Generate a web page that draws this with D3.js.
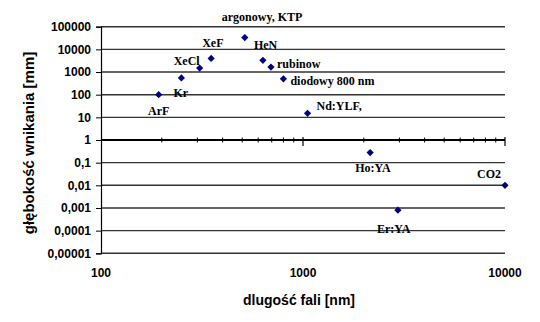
<!DOCTYPE html>
<html>
<head>
<meta charset="utf-8">
<script src="https://cdn.jsdelivr.net/npm/d3@7"></script>
<style>
  html, body { margin: 0; padding: 0; background: #fff; }
  svg { display: block; }
</style>
</head>
<body>
<svg id="chart" width="540" height="322"></svg>
<script>
// Laser types, wavelength [nm] and penetration depth [mm]
const lasers = ["ArF", "Kr", "XeCl", "XeF", "argonowy, KTP", "HeN", "rubinow",
                "diodowy 800 nm", "Nd:YLF,", "Ho:YA", "Er:YA", "CO2"];
const wavelengths = [193, 250, 308, 351, 515, 633, 694, 800, 1053, 2150, 2950, 10000];
const depths = [100, 550, 1500, 4000, 33000, 3300, 1650, 500, 15, 0.28, 0.0008, 0.01];

const xTicks = [100, 1000, 10000];
const yTicks = [100000, 10000, 1000, 100, 10, 1, 0.1, 0.01, 0.001, 0.0001, 0.00001];
const yTickLabels = ["100000", "10000", "1000", "100", "10", "1", "0,1", "0,01", "0,001", "0,0001", "0,00001"];

// label placement relative to each marker: [dx, dy, anchor]
const labelPos = {
  "ArF": [0, 16, "middle"],
  "Kr": [-8, 15.5, "start"],
  "XeCl": [0, -7, "end"],
  "XeF": [-9, -15, "start"],
  "argonowy, KTP": [-23, -21, "start"],
  "HeN": [-9, -15, "start"],
  "rubinow": [6, -3, "start"],
  "diodowy 800 nm": [7, 2, "start"],
  "Nd:YLF,": [9, -7, "start"],
  "Ho:YA": [-15, 15.5, "start"],
  "Er:YA": [-21, 19, "start"],
  "CO2": [-4, -11.5, "end"]
};

const svg = d3.select("#chart");
const plotLeft = 101, plotRight = 505, plotTop = 26.7, plotBottom = 253.3;

const x = d3.scaleLog().domain([100, 10000]).range([plotLeft, plotRight]);
const y = d3.scaleLog().domain([0.00001, 100000]).range([plotBottom, plotTop]);

const sansBold = "'Liberation Sans', Arial, sans-serif";
const serifBold = "'Liberation Serif', 'Times New Roman', serif";

// horizontal gridlines
svg.append("g")
  .selectAll("line")
  .data(yTicks.filter(v => v !== 1))
  .join("line")
  .attr("x1", plotLeft).attr("x2", plotRight)
  .attr("y1", d => y(d)).attr("y2", d => y(d))
  .attr("stroke", "#333")
  .attr("stroke-width", 1.4);

// y axis (left)
const yAxis = d3.axisLeft(y)
  .tickValues(yTicks)
  .tickSize(5)
  .tickFormat((d, i) => yTickLabels[i]);
const gy = svg.append("g").attr("transform", `translate(${plotLeft},0)`).call(yAxis);
gy.select(".domain").attr("stroke", "#000").attr("stroke-width", 1.2);
gy.selectAll(".tick line").attr("stroke", "#000");
gy.selectAll(".tick text")
  .attr("x", -10)
  .attr("font-family", sansBold)
  .attr("font-weight", "bold")
  .attr("font-size", 12)
  .attr("fill", "#000");

// x axis crossing at depth = 1, with log minor ticks
const yCross = y(1);
const minorTicks = x.ticks().filter(v => !xTicks.includes(v));
const gx = svg.append("g").attr("transform", `translate(0,${yCross})`);
gx.append("line")
  .attr("x1", plotLeft).attr("x2", plotRight)
  .attr("stroke", "#000").attr("stroke-width", 2);
gx.selectAll("line.minor")
  .data(minorTicks)
  .join("line")
  .attr("class", "minor")
  .attr("x1", d => x(d)).attr("x2", d => x(d))
  .attr("y1", -2.5).attr("y2", 2.5)
  .attr("stroke", "#000").attr("stroke-width", 1);
gx.selectAll("line.major")
  .data(xTicks.slice(1))
  .join("line")
  .attr("class", "major")
  .attr("x1", d => x(d)).attr("x2", d => x(d))
  .attr("y1", -3).attr("y2", 6)
  .attr("stroke", "#000").attr("stroke-width", 1.2);

// x tick labels at the bottom of the plot
svg.append("g")
  .selectAll("text")
  .data(xTicks)
  .join("text")
  .attr("x", d => x(d))
  .attr("y", 273)
  .attr("text-anchor", "middle")
  .attr("dominant-baseline", "central")
  .attr("font-family", sansBold)
  .attr("font-weight", "bold")
  .attr("font-size", 12)
  .text(d => d3.format("d")(d));

// axis titles
svg.append("text")
  .attr("x", 299).attr("y", 300)
  .attr("text-anchor", "middle")
  .attr("dominant-baseline", "central")
  .attr("font-family", sansBold)
  .attr("font-weight", "bold")
  .attr("font-size", 14)
  .text("dlugość fali [nm]");

svg.append("text")
  .attr("transform", "translate(28,143) rotate(-90)")
  .attr("text-anchor", "middle")
  .attr("dominant-baseline", "central")
  .attr("font-family", sansBold)
  .attr("font-weight", "bold")
  .attr("font-size", 15)
  .text("głębokość wnikania [mm]");

// data points
const points = lasers.map((name, i) => ({ name, wl: wavelengths[i], depth: depths[i] }));
const diamond = d3.symbol().type(d3.symbolSquare).size(26);

svg.append("g")
  .selectAll("path")
  .data(points)
  .join("path")
  .attr("d", diamond)
  .attr("transform", d => `translate(${x(d.wl)},${y(d.depth)}) rotate(45)`)
  .attr("fill", "#000080");

svg.append("g")
  .selectAll("text")
  .data(points)
  .join("text")
  .attr("x", d => x(d.wl) + labelPos[d.name][0])
  .attr("y", d => y(d.depth) + labelPos[d.name][1])
  .attr("text-anchor", d => labelPos[d.name][2])
  .attr("dominant-baseline", "central")
  .attr("font-family", serifBold)
  .attr("font-weight", "bold")
  .attr("font-size", 12)
  .attr("fill", "#000")
  .text(d => d.name);
</script>
</body>
</html>
